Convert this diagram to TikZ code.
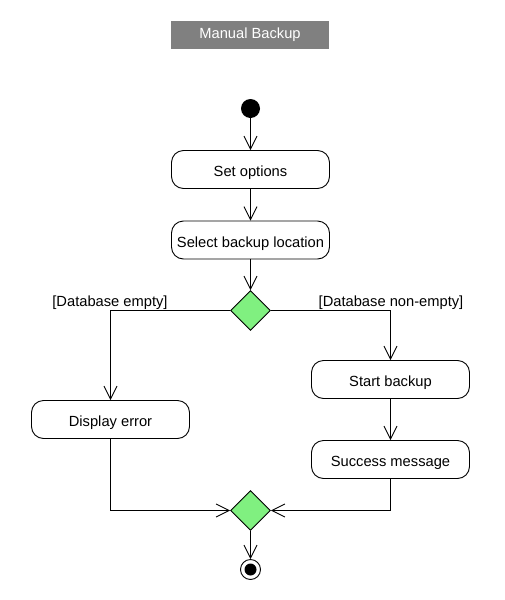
\documentclass[tikz,border=0pt]{standalone}
\usepackage{fontspec}
\setmainfont{Liberation Sans}
\usetikzlibrary{arrows.meta,shapes.geometric}
\definecolor{decgreen}{RGB}{128,240,128}
\definecolor{titlegray}{RGB}{128,128,128}
\begin{document}
\begin{tikzpicture}[x=1pt,y=-1pt,
  every node/.style={font=\fontsize{14.7}{17}\selectfont},
  actbox/.style={draw, rounded corners=12pt, minimum width=158pt, minimum height=38pt, inner sep=0pt, line width=0.9pt, text height=14.5pt, text depth=0pt},
  decision/.style={draw, diamond, fill=decgreen, minimum width=40pt, minimum height=40pt, inner sep=0pt, line width=0.9pt},
  flow/.style={draw, line width=0.9pt, -{Straight Barb[length=13pt,width=13pt]}},
  guard/.style={inner sep=0pt}]
\useasboundingbox[fill=white] (0,0) rectangle (504,600);
\node[fill=titlegray, text=white, minimum width=158pt, minimum height=28pt, inner sep=0pt] (title) at (250,35) {Manual Backup};
\node[circle, fill=black, minimum size=19pt, inner sep=0pt] (start) at (250.5,108.5) {};
\node[actbox] (setopt) at (250.5,169.5) {Set options};
\node[actbox] (select) at (250.5,240) {Select backup location};
\node[decision] (dec1) at (250.5,310.5) {};
\node[actbox] (disp) at (110.5,419.5) {Display error};
\node[actbox] (startb) at (390.5,379.5) {Start backup};
\node[actbox] (succ) at (390.5,459.5) {Success message};
\node[decision] (dec2) at (250.5,510.5) {};
\node[circle, draw, line width=0.9pt, minimum size=20pt, inner sep=0pt] (end) at (250.5,569.5) {};
\node[circle, fill=black, minimum size=12pt, inner sep=0pt] (endin) at (end) {};
\node[guard] (lblempty) at (110,302.5) {[Database empty]};
\node[guard] (lblnon) at (391,302.5) {[Database non-empty]};
\draw[flow] (start) -- (setopt);
\draw[flow] (setopt) -- (select);
\draw[flow] (select) -- (dec1);
\draw[flow] (dec1.west) -| (disp.north);
\draw[flow] (dec1.east) -| (startb.north);
\draw[flow] (startb) -- (succ);
\draw[flow] (disp.south) |- (dec2.west);
\draw[flow] (succ.south) |- (dec2.east);
\draw[flow] (dec2) -- (end);
\end{tikzpicture}
\end{document}
